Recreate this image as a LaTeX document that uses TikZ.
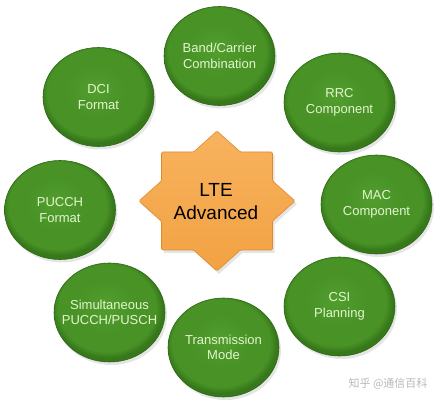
\documentclass[tikz,border=0pt]{standalone}
\usepackage{fontspec}
\setmainfont{Liberation Sans}
\newfontfamily\cjk{Noto Sans CJK SC}
\definecolor{gcenter}{RGB}{82,158,46}
\definecolor{gmid}{RGB}{72,146,38}
\definecolor{gedge}{RGB}{54,120,26}
\definecolor{grim}{RGB}{44,104,20}
\definecolor{gtext}{RGB}{226,246,206}
\definecolor{startop}{RGB}{248,178,94}
\definecolor{starbot}{RGB}{242,162,66}
\definecolor{starrim}{RGB}{222,138,44}
\pgfdeclareradialshading{greenball}{\pgfpoint{-2bp}{4bp}}{color(0bp)=(gcenter); color(14bp)=(gmid); color(22bp)=(gmid); color(25bp)=(gedge); color(50bp)=(gedge)}
\begin{document}
\begin{tikzpicture}[x=1pt,y=-1pt]
\useasboundingbox (0,0) rectangle (447,403);
\tikzset{
  disc/.style={shading=greenball, draw=grim, line width=0.6pt},
  bubtext/.style={text=gtext, align=center, inner sep=0pt,
    font=\fontsize{13}{15.5}\selectfont},
  shad/.style={fill=black, opacity=0.10},
  starshape/.style={top color=startop, bottom color=starbot, draw=starrim, line width=0.6pt, rounded corners=1.2pt}
}
% shadows and discs
\foreach \x/\y in {219.5/56, 98.5/97, 339.5/102.5, 60/210, 376.5/204.5, 339.5/306.5, 109.5/312.5, 223.5/347.5}{
  \fill[shad] (\x+2,\y+3) ellipse (55.5 and 49.5);
  \path[disc] (\x,\y) ellipse (55.5 and 49.5);
}
% texts
\node[bubtext] (band) at (219.5,56) {Band/Carrier\\Combination};
\node[bubtext] (dci) at (98.5,97) {DCI\\Format};
\node[bubtext] (rrc) at (339.5,102.5) {RRC\\Component};
\node[bubtext] (pucch) at (60,210) {PUCCH\\Format};
\node[bubtext] (mac) at (376.5,204.5) {MAC\\Component};
\node[bubtext] (csi) at (339.5,306.5) {CSI\\Planning};
\node[bubtext] (sim) at (109.5,312.5) {Simultaneous\\PUCCH/PUSCH};
\node[bubtext] (tm) at (223.5,347.5) {Transmission\\Mode};
% star
\path[fill=black, opacity=0.10] plot coordinates {(219,134) (242.4,155) (274.5,155) (274.5,183.8) (297,204) (274.5,224.2) (274.5,253) (242.4,253) (219,274) (195.6,253) (163.5,253) (163.5,224.2) (141,204) (163.5,183.8) (163.5,155) (195.6,155)} -- cycle;
\path[starshape] (217,131) -- (240.4,152) -- (272.5,152) -- (272.5,180.8) -- (295,201) -- (272.5,221.2) -- (272.5,250) -- (240.4,250) -- (217,271) -- (193.6,250) -- (161.5,250) -- (161.5,221.2) -- (139,201) -- (161.5,180.8) -- (161.5,152) -- (193.6,152) -- cycle;
\node[align=center, text=black, font=\fontsize{19}{23}\selectfont] (lte) at (216,202) {LTE\\Advanced};
% watermark
\node[text=black!28, font=\cjk\fontsize{11}{13}\selectfont, anchor=center] (wm) at (388,384) {知乎 @通信百科};
\end{tikzpicture}
\end{document}
